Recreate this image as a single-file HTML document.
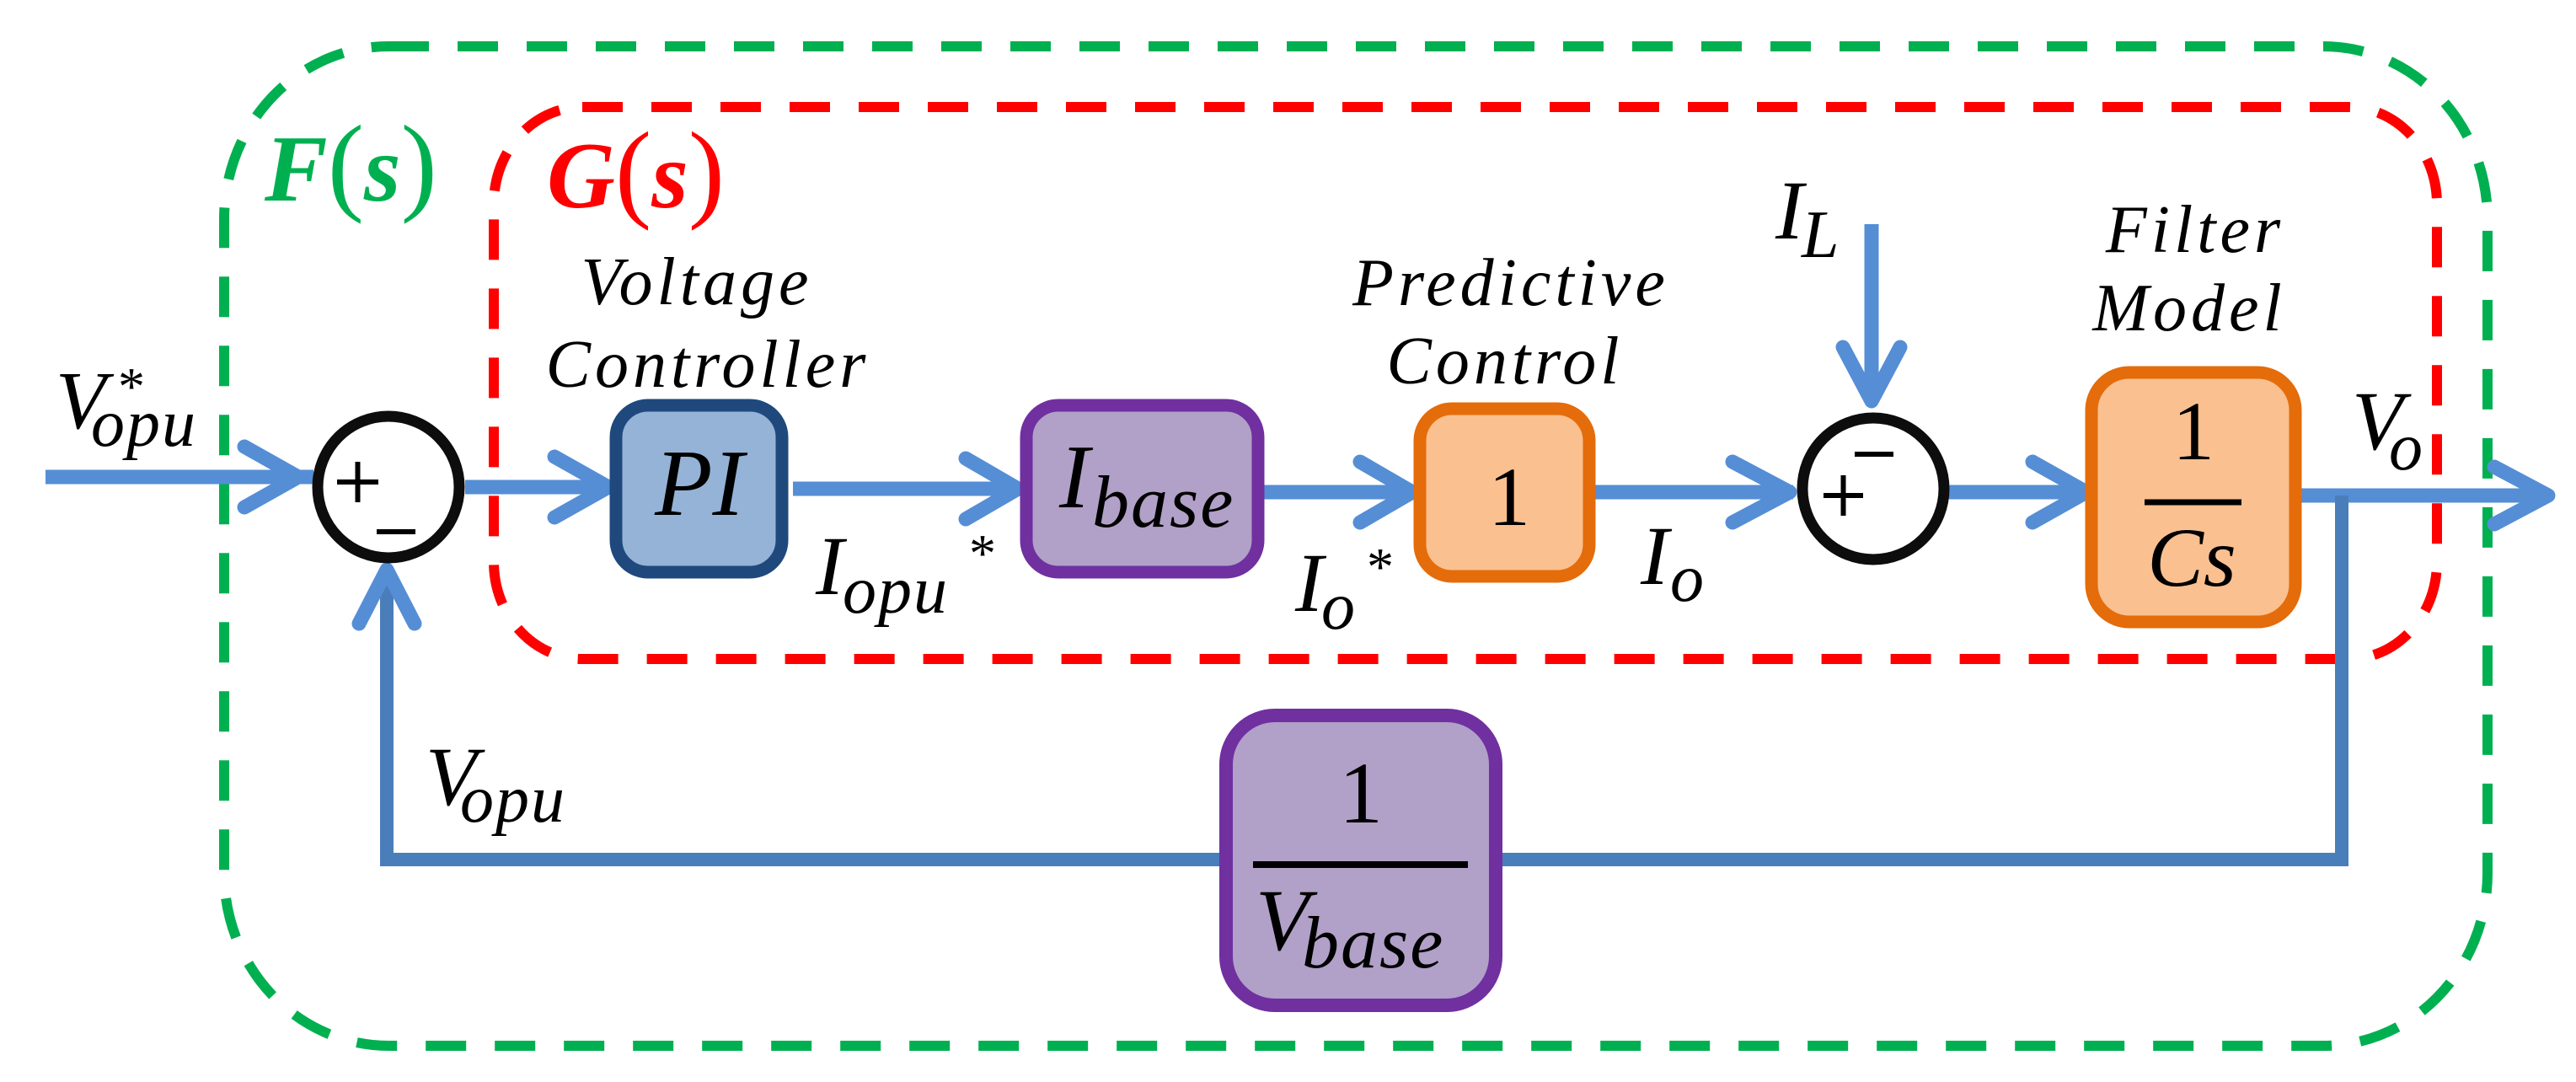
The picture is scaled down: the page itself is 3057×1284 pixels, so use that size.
<!DOCTYPE html>
<html><head><meta charset="utf-8"><style>
html,body{margin:0;padding:0;background:#fff;}
svg{display:block;}
text{font-family:"Liberation Serif","DejaVu Serif",serif;font-style:italic;fill:#000;}
.up{font-style:normal;}
</style></head><body>
<svg width="3057" height="1284" viewBox="0 0 3057 1284" xmlns="http://www.w3.org/2000/svg">
<rect x="266" y="55" width="2686" height="1186" rx="195" ry="205" fill="none" stroke="#00b050" stroke-width="12" stroke-dasharray="48 34"/>
<rect x="586" y="127" width="2306" height="655" rx="105" ry="115" fill="none" stroke="#ff0000" stroke-width="12" stroke-dasharray="48 34"/>
<text x="314" y="238" font-size="112" font-weight="bold" style="fill:#00b050">F<tspan font-weight="normal" font-style="normal" font-size="130">(</tspan>s<tspan font-weight="normal" font-style="normal" font-size="130">)</tspan></text>
<text x="649" y="246" font-size="112" font-weight="bold" style="fill:#ff0000">G<tspan font-weight="normal" font-style="normal" font-size="130">(</tspan>s<tspan font-weight="normal" font-style="normal" font-size="130">)</tspan></text>

<g stroke="#558ed5" stroke-width="17" fill="none" stroke-linecap="round" stroke-linejoin="round">
<line x1="54" y1="566" x2="372" y2="566" stroke-linecap="butt"/>
<polyline points="290,530 354,566 290,602"/>
<line x1="552" y1="578" x2="722" y2="578" stroke-linecap="butt"/>
<polyline points="658,542 722,578 658,614"/>
<line x1="941" y1="580" x2="1208" y2="580" stroke-linecap="butt"/>
<polyline points="1146,544 1208,580 1146,616"/>
<line x1="1500" y1="584" x2="1676" y2="584" stroke-linecap="butt"/>
<polyline points="1614,548 1676,584 1614,620"/>
<line x1="1893" y1="584" x2="2128" y2="584" stroke-linecap="butt"/>
<polyline points="2056,548 2124,584 2056,620"/>
<line x1="2221" y1="266" x2="2221" y2="478" stroke-linecap="butt"/>
<polyline points="2187,412 2221,476 2255,412"/>
<line x1="2310" y1="584" x2="2476" y2="584" stroke-linecap="butt"/>
<polyline points="2412,548 2476,584 2412,620"/>
<line x1="2720" y1="588" x2="3024" y2="588" stroke-linecap="butt"/>
<polyline points="2960,554 3024,588 2960,622"/>
</g>
<g stroke="#4a7ebb" stroke-width="16" fill="none">
<polyline points="2779,588 2779,1020 459,1020 459,680"/>
</g>
<polyline points="426,740 459,676 492,740" stroke="#558ed5" stroke-width="17" fill="none" stroke-linecap="round" stroke-linejoin="round"/>

<ellipse cx="461" cy="578" rx="84" ry="84" fill="#fff" stroke="#0d0d0d" stroke-width="13"/>
<g stroke="#000" stroke-width="6">
<line x1="400" y1="572" x2="449" y2="572"/><line x1="424.5" y1="548" x2="424.5" y2="596"/>
<line x1="447" y1="631" x2="493" y2="631"/>
</g>
<ellipse cx="2223" cy="580" rx="84" ry="84" fill="#fff" stroke="#0d0d0d" stroke-width="13"/>
<g stroke="#000" stroke-width="6">
<line x1="2164" y1="588" x2="2211" y2="588"/><line x1="2187.5" y1="564" x2="2187.5" y2="612"/>
<line x1="2201" y1="539" x2="2247" y2="539"/>
</g>

<rect x="731" y="481" width="197" height="198" rx="38" fill="#95b3d7" stroke="#1f497d" stroke-width="15"/>
<rect x="1218" y="481" width="275" height="198" rx="38" fill="#b1a0c7" stroke="#7030a0" stroke-width="15"/>
<rect x="1685" y="485" width="201" height="199" rx="38" fill="#fac090" stroke="#e46c0a" stroke-width="15"/>
<rect x="2482" y="442" width="242" height="296" rx="45" fill="#fac090" stroke="#e46c0a" stroke-width="15"/>
<rect x="1455" y="849" width="320" height="344" rx="58" fill="#b1a0c7" stroke="#7030a0" stroke-width="16"/>

<text x="830" y="611" font-size="112" text-anchor="middle">PI</text>
<text x="1257" y="602" font-size="108">I</text>
<text x="1296" y="625" font-size="88" letter-spacing="2">base</text>
<text class="up" x="1791" y="623" font-size="100" text-anchor="middle">1</text>
<text class="up" x="2603" y="545" font-size="100" text-anchor="middle">1</text>
<line x1="2545" y1="596" x2="2660" y2="596" stroke="#000" stroke-width="7"/>
<text x="2601" y="695" font-size="100" text-anchor="middle">Cs</text>
<text class="up" x="1615" y="976" font-size="104" text-anchor="middle">1</text>
<line x1="1487" y1="1026" x2="1742" y2="1026" stroke="#000" stroke-width="8"/>
<text x="1490" y="1127" font-size="104">V</text>
<text x="1545" y="1148" font-size="88" letter-spacing="2">base</text>

<text x="827" y="361" font-size="80" text-anchor="middle" letter-spacing="5">Voltage</text>
<text x="840" y="459" font-size="80" text-anchor="middle" letter-spacing="5">Controller</text>
<text x="1793" y="362" font-size="80" text-anchor="middle" letter-spacing="5">Predictive</text>
<text x="1786" y="455" font-size="80" text-anchor="middle" letter-spacing="5">Control</text>
<text x="2605" y="299" font-size="80" text-anchor="middle" letter-spacing="5">Filter</text>
<text x="2598" y="392" font-size="80" text-anchor="middle" letter-spacing="5">Model</text>

<text x="66" y="508" font-size="98">V</text>
<text x="108" y="529" font-size="80" letter-spacing="2">opu</text>
<text class="up" x="140" y="480" font-size="64">*</text>

<text x="968" y="705" font-size="100">I</text>
<text x="1000" y="727" font-size="80" letter-spacing="2">opu</text>
<text class="up" x="1150" y="678" font-size="64">*</text>

<text x="1537" y="725" font-size="100">I</text>
<text x="1568" y="746" font-size="80">o</text>
<text class="up" x="1622" y="694" font-size="64">*</text>

<text x="1947" y="693" font-size="100">I</text>
<text x="1982" y="713" font-size="80">o</text>

<text x="2107" y="283" font-size="100">I</text>
<text x="2138" y="305" font-size="80">L</text>

<text x="2791" y="533" font-size="100">V</text>
<text x="2835" y="557" font-size="80">o</text>

<text x="505" y="955" font-size="100">V</text>
<text x="546" y="975" font-size="80" letter-spacing="2">opu</text>
</svg>
</body></html>
